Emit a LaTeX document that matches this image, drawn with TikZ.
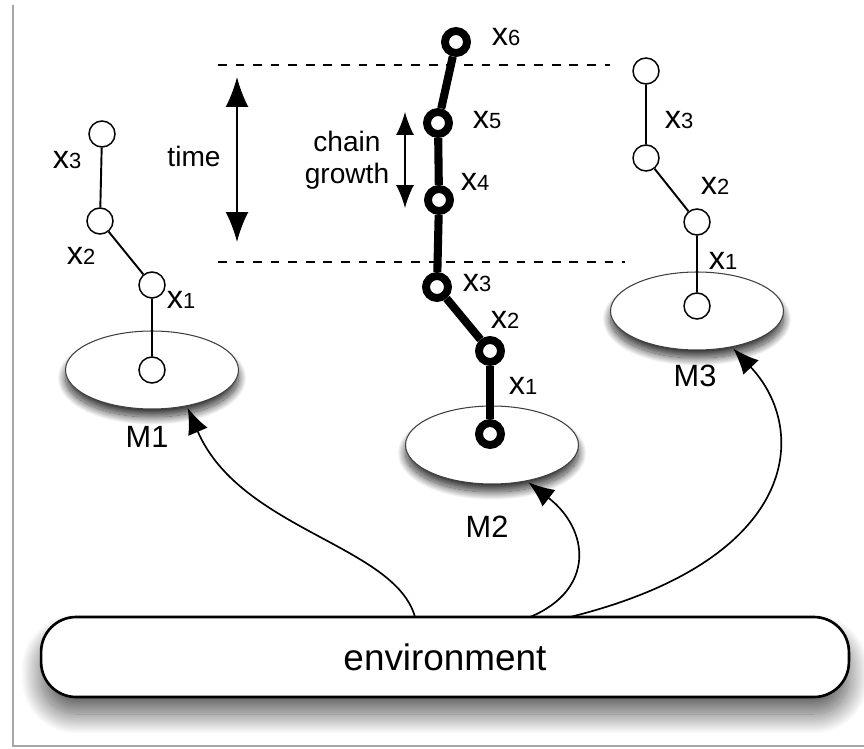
\documentclass[tikz,border=0pt]{standalone}
\usepackage{fontspec}
\setmainfont{Liberation Sans}
\usepackage{tikz}
\usetikzlibrary{shapes.geometric,arrows.meta,shadows.blur}

\newcommand{\xl}[1]{{\fontsize{18.5}{20}\selectfont x}{\fontsize{12.5}{14}\selectfont #1}}

\tikzset{
	model/.style={ellipse,draw=black!75,fill=white,line width=0.6pt,minimum width=3.46cm,minimum height=1.56cm,
		blur shadow={shadow xshift=0cm,shadow yshift=-0.16cm,shadow blur radius=0.16cm,shadow opacity=80,shadow blur steps=25}},
	state/.style={circle,draw,fill=white,line width=0.85pt,minimum size=0.52cm,inner sep=0pt},
	bstate/.style={circle,draw,fill=white,line width=4.5pt,minimum size=0.44cm,inner sep=0pt},
	link/.style={line width=1.1pt},
	blink/.style={line width=4.6pt},
	lab/.style={inner sep=0pt,font=\fontsize{16}{18}\selectfont},
	mlab/.style={inner sep=0pt,font=\fontsize{17.5}{20}\selectfont},
	feed/.style={line width=0.95pt,-{Latex[length=0.52cm,width=0.42cm]},shorten >=1pt},
	timearrow/.style={{Latex[length=0.6cm,width=0.46cm]}-{Latex[length=0.6cm,width=0.46cm]}},
	growarrow/.style={{Latex[length=0.46cm,width=0.36cm]}-{Latex[length=0.46cm,width=0.36cm]}},
	markline/.style={line width=1pt,dash pattern=on 5pt off 5pt}
}

\begin{document}
\begin{tikzpicture}[x=0.02cm,y=-0.02cm]
	\useasboundingbox (0,0) rectangle (864,749);
	% window frame
	\draw[black!35,line width=1.6pt] (13,5) -- (13,746) -- (864,746);

	% models
	\node[model] (m1) at (152,370) {};
	\node[model] (m2) at (492,445) {};
	\node[model] (m3) at (697,311) {};
	\node[mlab] (m1l) at (147,437) {M1};
	\node[mlab] (m2l) at (487,527) {M2};
	\node[mlab] (m3l) at (695,376) {M3};

	% environment
	\node[draw,fill=white,rounded corners=0.7cm,line width=1.5pt,minimum width=16.16cm,minimum height=1.6cm,
		blur shadow={shadow xshift=0cm,shadow yshift=-0.34cm,shadow blur radius=0.4cm,shadow opacity=65,shadow blur steps=30},
		font=\fontsize{21}{24}\selectfont] (env) at (445,657) {environment};

	% time window
	\draw[markline] (218,65) -- (610,65);
	\draw[markline] (218,262) -- (625,262);
	\coordinate (t1) at (237,77);
	\coordinate (t2) at (237,242);
	\draw[timearrow,line width=1.1pt] (t1) -- (t2);
	\node[lab] (time) at (194,156) {time};
	\coordinate (g1) at (405,112);
	\coordinate (g2) at (405,208);
	\draw[growarrow,line width=0.8pt] (g1) -- (g2);
	\node[lab,align=center] (growth) at (347,160) {chain\\growth};

	% chain of M1
	\node[state] (a0) at (152,370) {};
	\node[state] (a1) at (152,285) {};
	\node[state] (a2) at (100,221) {};
	\node[state] (a3) at (102,134) {};
	\draw[link] (a0) -- (a1) -- (a2) -- (a3);
	\node[inner sep=0pt] at (181,300) {\xl{1}};
	\node[inner sep=0pt] at (81,256) {\xl{2}};
	\node[inner sep=0pt] at (67,160) {\xl{3}};

	% chain of M2
	\node[bstate] (b0) at (490,434) {};
	\node[bstate] (b1) at (490,351) {};
	\node[bstate] (b2) at (437,287) {};
	\node[bstate] (b3) at (439,200) {};
	\node[bstate] (b4) at (438,123) {};
	\node[bstate] (b5) at (456,42) {};
	\foreach \i/\j in {b0/b1,b1/b2,b2/b3,b3/b4,b4/b5}
		\draw[blink] (\i) -- (\j);
	\node[inner sep=0pt] at (523,386) {\xl{1}};
	\node[inner sep=0pt] at (505,320) {\xl{2}};
	\node[inner sep=0pt] at (477,283) {\xl{3}};
	\node[inner sep=0pt] at (475,182) {\xl{4}};
	\node[inner sep=0pt] at (487,120) {\xl{5}};
	\node[inner sep=0pt] at (506,37) {\xl{6}};

	% chain of M3
	\node[state] (c0) at (697,306) {};
	\node[state] (c1) at (697,222) {};
	\node[state] (c2) at (646,158) {};
	\node[state] (c3) at (646,71) {};
	\draw[link] (c0) -- (c1) -- (c2) -- (c3);
	\node[inner sep=0pt] at (723,261) {\xl{1}};
	\node[inner sep=0pt] at (715,186) {\xl{2}};
	\node[inner sep=0pt] at (679,120) {\xl{3}};

	% environment feeds the models
	\coordinate (e1) at (415,617);
	\coordinate (e2) at (530,617);
	\coordinate (e3) at (570,617);
	\draw[feed] (e1) .. controls (395,545) and (240,530) .. (m1.-46);
	\draw[feed] (e2) .. controls (595,590) and (590,530) .. (m2.-46);
	\draw[feed] (e3) .. controls (800,560) and (810,430) .. (m3.-46);
\end{tikzpicture}
\end{document}
